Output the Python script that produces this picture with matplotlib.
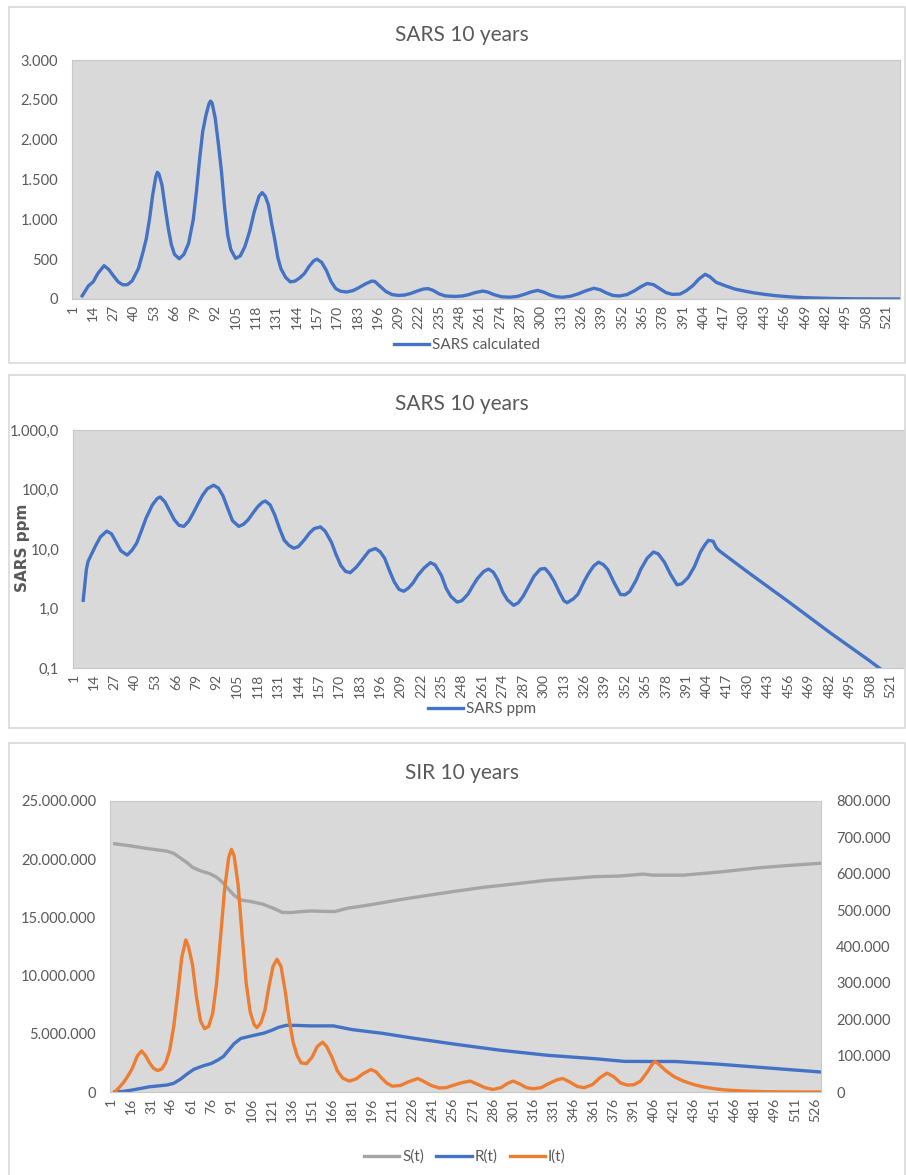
import matplotlib
matplotlib.use("Agg")
import matplotlib.pyplot as plt
from matplotlib.patches import Rectangle
from matplotlib.ticker import FuncFormatter, FixedLocator, NullLocator

plt.rcParams['font.family'] = ['Lato', 'DejaVu Sans']

# ---- data (x = time step index) ----
sars_days = [7, 11, 14, 17, 21, 24, 27, 30, 33, 36, 39, 43, 46, 48, 50, 52, 54, 55, 56, 58,
             60, 62, 64, 66, 69, 72, 75, 78, 80, 82, 84, 86, 88, 89, 90, 92, 94, 96, 98, 100,
             102, 105, 108, 111, 114, 117, 120, 122, 124, 126, 128, 130, 132, 134, 137, 140,
             143, 146, 149, 152, 155, 157, 160, 163, 166, 169, 172, 176, 180, 184, 188, 192,
             194, 197, 201, 205, 209, 213, 217, 221, 225, 228, 231, 235, 239, 245, 250, 254,
             258, 263, 266, 270, 275, 280, 285, 290, 294, 298, 302, 306, 310, 314, 319, 324,
             329, 334, 338, 342, 346, 350, 355, 360, 364, 368, 372, 376, 380, 384, 389, 393,
             397, 401, 405, 408, 412, 418, 424, 430, 436, 443, 450, 456, 463, 469, 476, 482,
             489, 495, 502, 510, 520, 529]
sars_calc = [40, 165, 215, 320, 418, 370, 290, 215, 178, 180, 230, 385, 600, 760, 1000, 1300,
             1530, 1590, 1570, 1430, 1150, 890, 680, 560, 505, 560, 700, 1000, 1350, 1750, 2100,
             2300, 2450, 2485, 2460, 2270, 1950, 1600, 1150, 800, 620, 510, 540, 660, 850, 1100,
             1290, 1335, 1290, 1180, 950, 750, 520, 380, 270, 215, 225, 265, 320, 410, 480, 500,
             460, 360, 220, 130, 98, 88, 105, 145, 190, 225, 220, 165, 95, 55, 45, 50, 70, 100,
             125, 130, 110, 65, 38, 32, 38, 55, 80, 100, 88, 55, 28, 22, 32, 62, 90, 108, 85, 50,
             28, 22, 35, 65, 105, 135, 115, 75, 45, 38, 55, 105, 155, 195, 180, 130, 80, 58, 62,
             105, 165, 250, 310, 280, 210, 165, 125, 100, 78, 58, 42, 32, 22, 16, 12, 8, 5, 3, 2,
             1, 1, 0]

ppm_days = [7, 9, 10, 12, 15, 18, 22, 25, 28, 31, 35, 38, 41, 44, 47, 51, 54, 56, 59, 62, 65,
            68, 71, 74, 77, 80, 83, 86, 90, 93, 96, 99, 102, 106, 109, 112, 115, 118, 121, 123,
            126, 129, 132, 135, 138, 141, 144, 148, 151, 154, 158, 161, 165, 168, 171, 174, 177,
            181, 185, 189, 193, 196, 199, 202, 205, 208, 211, 214, 217, 220, 224, 228, 231, 235,
            238, 241, 245, 248, 252, 255, 258, 262, 265, 268, 271, 274, 277, 281, 284, 287, 291,
            294, 298, 301, 304, 307, 310, 313, 315, 319, 322, 326, 329, 332, 335, 338, 341, 345,
            349, 352, 355, 359, 362, 366, 370, 373, 377, 381, 385, 388, 392, 396, 400, 403, 405,
            408, 410, 412, 430, 456, 482, 508, 529]
sars_ppm = [1.37, 4.5, 6.1, 7.9, 11.5, 16, 20, 18, 13, 9.3, 7.9, 9.5, 12.5, 20, 33, 55, 70, 75,
            62, 44, 31, 25, 24, 29, 40, 57, 80, 103, 118, 106, 78, 48, 30, 24, 26, 31, 40, 51, 61,
            64, 55, 37, 22, 14, 11.5, 10.3, 11, 14.5, 18.5, 22, 23.5, 20, 13, 8, 5.3, 4.2, 4.0, 5,
            6.8, 9.3, 10.2, 9, 6.9, 4.3, 2.8, 2.1, 1.95, 2.2, 2.7, 3.6, 4.8, 5.9, 5.4, 3.6, 2.2,
            1.6, 1.28, 1.35, 1.75, 2.4, 3.2, 4.2, 4.6, 4.1, 3.0, 1.9, 1.4, 1.13, 1.25, 1.6, 2.5,
            3.5, 4.6, 4.7, 3.8, 2.8, 1.9, 1.35, 1.25, 1.45, 1.75, 2.9, 4.0, 5.2, 6.0, 5.5, 4.5,
            2.7, 1.72, 1.7, 1.95, 3.0, 4.6, 7.0, 8.9, 8.3, 6.0, 3.7, 2.5, 2.6, 3.3, 5.0, 9.0, 12,
            14, 13.5, 10.5, 9.3, 4.1, 1.3, 0.4, 0.13, 0.05]

s_days = [4, 16, 28, 43, 48, 53, 58, 62, 68, 75, 80, 85, 89, 93, 98, 106, 114, 122, 129, 136,
          143, 150, 160, 168, 178, 190, 203, 218, 235, 258, 280, 300, 327, 345, 362, 380, 398,
          405, 428, 455, 483, 505, 530]
s_vals = [21.33e6, 21.14e6, 20.92e6, 20.69e6, 20.5e6, 20.1e6, 19.7e6, 19.3e6, 19.0e6, 18.75e6,
          18.45e6, 17.95e6, 17.4e6, 16.9e6, 16.5e6, 16.35e6, 16.15e6, 15.8e6, 15.42e6, 15.42e6,
          15.5e6, 15.55e6, 15.52e6, 15.5e6, 15.8e6, 16.0e6, 16.25e6, 16.55e6, 16.85e6, 17.25e6,
          17.6e6, 17.85e6, 18.2e6, 18.35e6, 18.5e6, 18.55e6, 18.72e6, 18.63e6, 18.63e6, 18.9e6,
          19.25e6, 19.45e6, 19.65e6]

r_days = [4, 10, 16, 24, 30, 43, 48, 53, 58, 63, 70, 76, 81, 85, 89, 93, 98, 106, 115, 121,
          126, 132, 140, 150, 167, 181, 203, 228, 258, 292, 327, 362, 384, 405, 422, 453, 488,
          530]
r_vals = [0.02e6, 0.05e6, 0.15e6, 0.32e6, 0.45e6, 0.6e6, 0.75e6, 1.1e6, 1.55e6, 1.95e6,
          2.25e6, 2.45e6, 2.75e6, 3.05e6, 3.6e6, 4.15e6, 4.6e6, 4.82e6, 5.05e6, 5.3e6, 5.55e6,
          5.73e6, 5.72e6, 5.68e6, 5.68e6, 5.36e6, 5.05e6, 4.6e6, 4.1e6, 3.58e6, 3.15e6, 2.86e6,
          2.63e6, 2.62e6, 2.62e6, 2.4e6, 2.09e6, 1.72e6]

i_days = [4, 8, 11, 14, 17, 21, 24, 27, 30, 33, 36, 39, 42, 45, 48, 51, 54, 57, 59, 62, 65,
          68, 71, 74, 77, 80, 83, 86, 89, 91, 93, 96, 99, 102, 105, 108, 110, 113, 116, 119, 122,
          125, 128, 131, 134, 137, 140, 143, 147, 151, 155, 159, 162, 166, 170, 174, 179, 184,
          189, 195, 199, 203, 207, 211, 217, 223, 230, 235, 240, 246, 251, 256, 263, 269, 274,
          280, 286, 292, 297, 301, 306, 311, 316, 322, 328, 334, 338, 343, 349, 354, 360, 366,
          371, 376, 381, 386, 391, 396, 401, 405, 407, 410, 415, 421, 428, 436, 443, 451, 458,
          466, 474, 481, 490, 500, 515, 530]
i_vals = [0, 15e3, 28e3, 45e3, 64e3, 100e3, 113e3, 100e3, 80e3, 65e3, 59e3, 63e3, 80e3,
          115e3, 180e3, 270e3, 370e3, 418e3, 400e3, 350e3, 260e3, 195e3, 174e3, 180e3, 215e3,
          300e3, 430e3, 560e3, 645e3, 667e3, 650e3, 570e3, 430e3, 300e3, 220e3, 185e3, 177e3,
          190e3, 225e3, 290e3, 345e3, 365e3, 345e3, 280e3, 200e3, 137e3, 100e3, 80e3, 78e3,
          95e3, 125e3, 137e3, 125e3, 95e3, 58e3, 38e3, 30e3, 36e3, 50e3, 62e3, 55e3, 38e3, 24e3,
          16e3, 18e3, 28e3, 37e3, 28e3, 18e3, 11e3, 12e3, 18e3, 26e3, 30e3, 22e3, 12e3, 7e3,
          12e3, 24e3, 30e3, 22e3, 12e3, 9e3, 12e3, 24e3, 34e3, 37e3, 28e3, 15e3, 12e3, 20e3,
          40e3, 52e3, 42e3, 25e3, 19e3, 20e3, 30e3, 55e3, 78e3, 84e3, 75e3, 58e3, 42e3, 30e3,
          20e3, 14e3, 9e3, 6e3, 4e3, 2.5e3, 1.5e3, 0.8e3, 0.4e3, 0.1e3, 0]

sars_ticks = list(range(1, 530, 13))
sir_ticks = list(range(1, 531, 15))

BLUE = '#4472C4'
ORANGE = '#ED7D31'
GRAY = '#A5A5A5'
TXT = '#595959'
PLOT_BG = '#D9D9D9'
LW = 2.4

W, H = 906, 1175
fig = plt.figure(figsize=(W / 100, H / 100), dpi=100)
fig.patch.set_facecolor('white')


def eu(v, decimals=0):
    s = f"{v:,.{decimals}f}"
    return s.replace(',', 'X').replace('.', ',').replace('X', '.')


def make_axes(left, top, right, bottom):
    return fig.add_axes([left / W, 1 - bottom / H, (right - left) / W, (bottom - top) / H])


def panel_box(top, bottom):
    # thin grey frame around each chart, like the Excel chart area
    fig.patches.append(Rectangle((9 / W, 1 - bottom / H), (W - 10) / W, (bottom - top) / H,
                                 transform=fig.transFigure, facecolor='none',
                                 edgecolor='#D9D9D9', lw=1.2, zorder=0))


def style(ax, ticks, ypad):
    ax.set_facecolor(PLOT_BG)
    for sp in ax.spines.values():
        sp.set_color('#C8C8C8')
        sp.set_linewidth(0.8)
    ax.xaxis.set_major_locator(FixedLocator(ticks))
    ax.set_xticklabels([str(t) for t in ticks], rotation=90, fontsize=10, color=TXT)
    ax.tick_params(axis='x', length=0, pad=4)
    ax.tick_params(axis='y', length=0, pad=ypad, labelsize=10.5, labelcolor=TXT)


panel_box(7, 363)
panel_box(375, 728)
panel_box(743, 1180)

# ---- panel 1 ----
ax1 = make_axes(72, 60, 900, 299)
ax1.plot(sars_days, sars_calc, color=BLUE, lw=LW, label='SARS calculated')
ax1.set_xlim(0.5, 529.5)
ax1.set_ylim(0, 3000)
ax1.set_yticks(range(0, 3001, 500))
ax1.yaxis.set_major_formatter(FuncFormatter(lambda v, p: eu(v)))
style(ax1, sars_ticks, 10)
fig.text(462 / W, 1 - 35 / H, 'SARS 10 years', ha='center', va='center', fontsize=15, color=TXT)
ax1.legend(loc='center', bbox_to_anchor=(467 / W, 1 - 345 / H), bbox_transform=fig.transFigure,
           frameon=False, fontsize=11, labelcolor=TXT, handlelength=2.3, handletextpad=0.2)

# ---- panel 2 ----
ax2 = make_axes(73, 430, 904, 668)
ax2.plot(ppm_days, sars_ppm, color=BLUE, lw=LW, label='SARS ppm')
ax2.set_yscale('log')
ax2.set_xlim(0.5, 529.5)
ax2.set_ylim(0.1, 1000)
ax2.yaxis.set_major_locator(FixedLocator([0.1, 1, 10, 100, 1000]))
ax2.yaxis.set_minor_locator(NullLocator())
ax2.yaxis.set_major_formatter(FuncFormatter(lambda v, p: eu(v, 1)))
style(ax2, sars_ticks, 10)
fig.text(462 / W, 1 - 404 / H, 'SARS 10 years', ha='center', va='center', fontsize=15, color=TXT)
fig.text(23 / W, 1 - 548 / H, 'SARS ppm', rotation=90, ha='center', va='center', fontsize=11,
         fontweight='bold', color=TXT, family=['DejaVu Sans'])
ax2.legend(loc='center', bbox_to_anchor=(482 / W, 1 - 709 / H), bbox_transform=fig.transFigure,
           frameon=False, fontsize=11, labelcolor=TXT, handlelength=2.3, handletextpad=0.2)

# ---- panel 3 ----
ax3 = make_axes(110, 801, 821, 1092)
l1, = ax3.plot(s_days, s_vals, color=GRAY, lw=LW, label='S(t)')
l2, = ax3.plot(r_days, r_vals, color=BLUE, lw=LW, label='R(t)')
ax3.set_xlim(0.5, 530.5)
ax3.set_ylim(0, 25e6)
ax3.set_yticks([0, 5e6, 10e6, 15e6, 20e6, 25e6])
ax3.yaxis.set_major_formatter(FuncFormatter(lambda v, p: eu(v)))
style(ax3, sir_ticks, 10)
ax3b = ax3.twinx()
l3, = ax3b.plot(i_days, i_vals, color=ORANGE, lw=LW, label='I(t)')
ax3b.set_ylim(0, 800000)
ax3b.set_yticks(range(0, 800001, 100000))
ax3b.yaxis.set_major_formatter(FuncFormatter(lambda v, p: eu(v)))
for sp in ax3b.spines.values():
    sp.set_visible(False)
ax3b.tick_params(axis='y', length=0, pad=11, labelsize=10.5, labelcolor=TXT)
fig.text(462 / W, 1 - 773 / H, 'SIR 10 years', ha='center', va='center', fontsize=15, color=TXT)
ax3.legend(handles=[l1, l2, l3], loc='center', ncol=3, bbox_to_anchor=(465 / W, 1 - 1157 / H),
           bbox_transform=fig.transFigure, frameon=False, fontsize=11, labelcolor=TXT,
           handlelength=2.3, handletextpad=0.2, columnspacing=0.8)

fig.savefig('out.png', dpi=100, facecolor='white')
